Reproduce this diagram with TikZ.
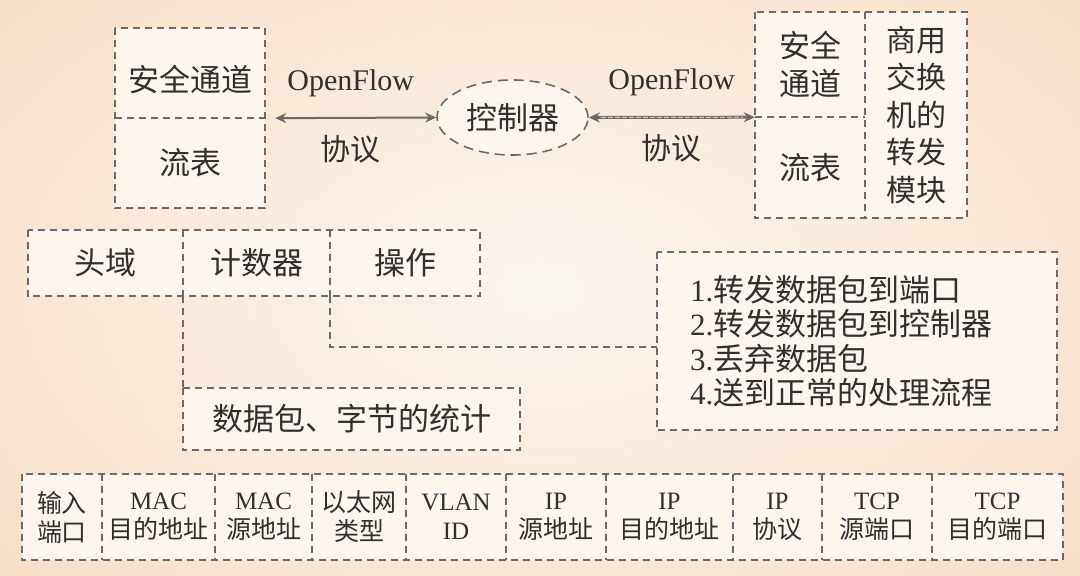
\documentclass[tikz,border=0pt]{standalone}
\usepackage{fontspec}
\setmainfont{Liberation Serif}
\newfontfamily\cjkfont{Noto Sans CJK SC}
\usetikzlibrary{arrows.meta,shapes.geometric}
\newcommand\zhs[1]{{\cjkfont #1}}
\definecolor{ink}{HTML}{303030}
\definecolor{rulegray}{HTML}{6A6A6A}
\definecolor{paper}{HTML}{FCF6EE}
\definecolor{bgin}{HTML}{FBF6F1}
\definecolor{bgout}{HTML}{F7DEC4}

\begin{document}
\begin{tikzpicture}[x=1pt,y=-1pt,
  dashline/.style={draw=rulegray, line width=1.6pt, dash pattern=on 7pt off 5pt},
  boxcell/.style={fill=paper, inner sep=0pt, text=ink, align=center,
    font=\fontsize{31}{38}\selectfont},
  fieldcell/.style={boxcell, minimum height=86pt, font=\fontsize{25}{29}\selectfont},
  link/.style={draw=rulegray, line width=2pt,
    {Stealth[length=11pt,width=10pt]}-{Stealth[length=11pt,width=10pt]}},
  arrowtext/.style={text=ink, inner sep=0pt, font=\fontsize{30}{36}\selectfont}]

% page and background
\useasboundingbox (0,0) rectangle (1080,576);
\shade[inner color=bgin, outer color=bgout] (-200,-150) rectangle (1280,726);

% switch with the OpenFlow side (left)
\node[boxcell, minimum width=150pt, minimum height=90pt, text height=40pt, text depth=4pt]
  (tl_sec) at (190,73) {\zhs{安全通道}};
\node[boxcell, minimum width=150pt, minimum height=90pt] (tl_flow) at (190,163) {\zhs{流表}};

% controller
\node[ellipse, draw=rulegray, line width=1.6pt, dash pattern=on 10pt off 6pt, fill=paper,
  text=ink, inner sep=0pt, minimum width=151pt, minimum height=75pt,
  font=\fontsize{31}{38}\selectfont] (ctrl) at (512.5,117.5) {\zhs{控制器}};

% commercial switch (right)
\node[boxcell, minimum width=110pt, minimum height=105pt] (r_sec) at (810,64.5) {\zhs{安全}\\\zhs{通道}};
\node[boxcell, minimum width=110pt, minimum height=101pt] (r_flow) at (810,167.5) {\zhs{流表}};
\node[boxcell, minimum width=102pt, minimum height=206pt, font=\fontsize{30}{37.5}\selectfont]
  (r_mod) at (916,115) {\zhs{商用}\\\zhs{交换}\\\zhs{机的}\\\zhs{转发}\\\zhs{模块}};

% flow entry
\node[boxcell, minimum width=155pt, minimum height=66pt] (hd) at (105.5,263) {\zhs{头域}};
\node[boxcell, minimum width=147pt, minimum height=66pt] (cnt) at (256.5,263) {\zhs{计数器}};
\node[boxcell, minimum width=150pt, minimum height=66pt] (act) at (405,263) {\zhs{操作}};

\node[boxcell, minimum width=337pt, minimum height=62pt] (stats) at (351.5,419) {\zhs{数据包、字节的统计}};

\node[boxcell, align=left, text width=334pt, inner xsep=33pt, minimum height=178pt,
  font=\fontsize{31}{34.5}\selectfont] (actions) at (857,341)
  {1.\zhs{转发数据包到端口}\\2.\zhs{转发数据包到控制器}\\3.\zhs{丢弃数据包}\\4.\zhs{送到正常的处理流程}};

% header fields
\node[fieldcell, minimum width=80pt]  (c1)  at (62,517)    {\zhs{输入}\\\zhs{端口}};
\node[fieldcell, minimum width=113pt] (c2)  at (158.5,517) {MAC\\\zhs{目的地址}};
\node[fieldcell, minimum width=97pt]  (c3)  at (263.5,517) {MAC\\\zhs{源地址}};
\node[fieldcell, minimum width=94pt]  (c4)  at (359,517)   {\zhs{以太网}\\\zhs{类型}};
\node[fieldcell, minimum width=100pt] (c5)  at (456,517)   {VLAN\\ID};
\node[fieldcell, minimum width=100pt] (c6)  at (556,517)   {IP\\\zhs{源地址}};
\node[fieldcell, minimum width=127pt] (c7)  at (669.5,517) {IP\\\zhs{目的地址}};
\node[fieldcell, minimum width=89pt]  (c8)  at (777.5,517) {IP\\\zhs{协议}};
\node[fieldcell, minimum width=110pt] (c9)  at (877,517)   {TCP\\\zhs{源端口}};
\node[fieldcell, minimum width=131pt] (c10) at (997.5,517) {TCP\\\zhs{目的端口}};

% outlines and dividers
\draw[dashline] (tl_sec.north west) rectangle (tl_flow.south east);
\draw[dashline] (tl_sec.south west) -- (tl_sec.south east);
\draw[dashline] (r_sec.north west) rectangle (r_mod.south east);
\draw[dashline] (r_sec.south west) -- (r_sec.south east);
\draw[dashline] (r_mod.north west) -- (r_mod.south west);
\draw[dashline] (hd.north west) rectangle (act.south east);
\draw[dashline] (cnt.north west) -- (cnt.south west);
\draw[dashline] (act.north west) -- (act.south west);
\draw[dashline] (stats.north west) rectangle (stats.south east);
\draw[dashline] (actions.north west) rectangle (actions.south east);
\draw[dashline] (c1.north west) rectangle (c10.south east);
\foreach \c in {c2,c3,c4,c5,c6,c7,c8,c9,c10}
  \draw[dashline] (\c.north west) -- (\c.south west);

% connectors inside the flow entry
\draw[dashline] (act.south west) |- ([yshift=-6pt]actions.west);
\draw[dashline] (cnt.south west) -- (stats.north west);

% OpenFlow links
\draw[link, shorten <=10pt] (tl_sec.south east) -- (ctrl.west)
  node[arrowtext, midway, yshift=35pt] {OpenFlow}
  node[arrowtext, midway, yshift=-31pt] {\zhs{协议}};
\draw[link, line width=3pt] (ctrl.east) -- (r_sec.south west)
  node[arrowtext, midway, yshift=35pt] {OpenFlow}
  node[arrowtext, midway, yshift=-31pt] {\zhs{协议}};
\draw[white!65!rulegray, line width=1pt, dash pattern=on 5pt off 2pt,
  shorten <=12pt, shorten >=12pt] (ctrl.east) -- (r_sec.south west);
\end{tikzpicture}
\end{document}
